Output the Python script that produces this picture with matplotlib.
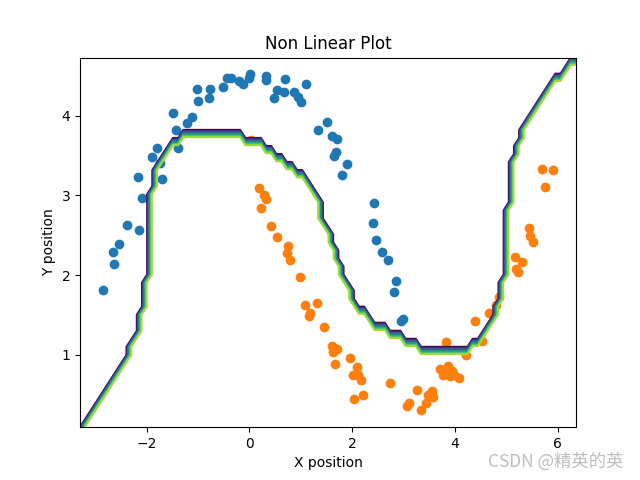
import numpy as np
import matplotlib
matplotlib.use("Agg")
import matplotlib.pyplot as plt

# class 0 (blue) points
x0 = [-2.85, -2.65, -2.63, -2.54, -2.39, -2.15, -2.09, -2.17, -1.90, -1.80, -1.74, -1.71,
      -1.39, -1.43, -1.48, -1.22, -1.11, -1.00, -1.02, -0.78, -0.76, -0.52, -0.43, -0.35,
      -0.20, -0.13, 0.01, 0.00, 0.33, 0.32, 0.69, 1.10, 0.54, 0.67, 0.48, 0.87, 0.95, 1.00,
      1.34, 1.52, 1.60, 1.71, 1.68, 1.65, 1.90, 1.81, 2.42, 2.41, 2.46, 2.58, 2.70, 2.85,
      2.81, 2.96, 2.99]
y0 = [1.81, 2.29, 2.14, 2.39, 2.63, 2.57, 2.97, 3.23, 3.48, 3.59, 3.41, 3.20,
      3.59, 3.82, 4.04, 3.91, 3.98, 4.18, 4.33, 4.22, 4.34, 4.36, 4.47, 4.48,
      4.43, 4.40, 4.53, 4.48, 4.50, 4.45, 4.46, 4.40, 4.32, 4.30, 4.22, 4.30, 4.24, 4.17,
      3.82, 3.92, 3.74, 3.71, 3.55, 3.49, 3.39, 3.26, 2.90, 2.65, 2.44, 2.29, 2.19, 1.93,
      1.79, 1.42, 1.45]

# class 1 (orange) points
x1 = [0.04, 0.19, 0.28, 0.32, 0.22, 0.42, 0.54, 0.76, 0.74, 0.79, 0.98, 1.08, 1.18, 1.31,
      1.16, 1.46, 1.60, 1.71, 1.63, 1.66, 1.96, 2.10, 2.02, 2.12, 2.17, 2.21, 2.04, 2.74,
      3.26, 3.55, 3.58, 3.48, 3.44, 3.11, 3.06, 3.35, 3.83, 3.71, 3.81, 3.87, 3.76, 3.94,
      3.98, 4.09, 3.90, 4.22, 4.39, 4.52, 4.67, 4.81, 4.86, 5.17, 5.31, 5.20, 5.23, 5.45,
      5.46, 5.53, 5.70, 5.92, 5.75]
y1 = [3.69, 3.09, 3.01, 2.95, 2.84, 2.62, 2.48, 2.36, 2.28, 2.19, 1.98, 1.62, 1.52, 1.65,
      1.49, 1.35, 1.11, 1.07, 1.03, 0.88, 0.96, 0.84, 0.74, 0.74, 0.68, 0.50, 0.44, 0.65,
      0.56, 0.54, 0.47, 0.49, 0.40, 0.39, 0.35, 0.31, 1.16, 0.82, 0.81, 0.86, 0.74, 0.79,
      0.74, 0.71, 0.73, 1.00, 1.42, 1.17, 1.52, 1.62, 1.73, 2.23, 2.17, 2.07, 2.04, 2.59,
      2.49, 2.42, 3.33, 3.32, 3.10]

# decision boundary (class 1 below it)
bx = [-3.30, -3.11, -2.81, -2.65, -2.46, -2.26, -2.13, -2.07, -2.00, -1.97, -1.92, -1.88,
      -1.84, -1.74, -1.61, -1.42, -1.22, -1.06, -0.35, -0.25, 0.07, 0.33, 0.59, 0.85, 1.11,
      1.31, 1.41, 1.57, 1.73, 1.86, 2.09, 2.41, 2.74, 3.13, 3.38, 3.77, 3.97, 4.29, 4.55,
      4.72, 4.85, 4.95, 5.01, 5.05, 5.11, 5.20, 5.33, 5.46, 5.66, 5.92, 6.18, 6.36]
by = [0.04, 0.28, 0.52, 0.65, 0.86, 1.15, 1.36, 1.69, 1.75, 2.36, 2.90, 3.15,
      3.28, 3.45, 3.57, 3.68, 3.75, 3.79, 3.79, 3.74, 3.70, 3.59, 3.47, 3.36, 3.18,
      2.99, 2.72, 2.49, 2.15, 1.90, 1.61, 1.40, 1.27, 1.15, 1.08, 1.06, 1.05, 1.09, 1.23,
      1.40, 1.62, 2.00, 2.30, 2.85, 3.30, 3.57, 3.78, 4.03, 4.20, 4.43, 4.58, 4.70]

# prediction grid
xx, yy = np.meshgrid(np.linspace(-3.30, 6.36, 97), np.linspace(0.09, 4.73, 47))
Z = (yy < np.interp(xx, bx, by)).astype(float)

fig, ax = plt.subplots(figsize=(6.4, 4.8), dpi=100)
ax.scatter(x0, y0, color="C0")
ax.scatter(x1, y1, color="C1")
ax.contour(xx, yy, Z, cmap="viridis")
ax.set_xlim(xx.min(), xx.max())
ax.set_ylim(yy.min(), yy.max())
ax.set_xlabel("X position")
ax.set_ylabel("Y position")
ax.set_title("Non Linear Plot")
fig.text(0.975, 0.038, "CSDN @精英的英", ha="right", va="center", fontsize=12.5,
         color="#bdbdbd", family=["Noto Sans CJK SC", "DejaVu Sans"])
fig.savefig("out.png", dpi=100)
